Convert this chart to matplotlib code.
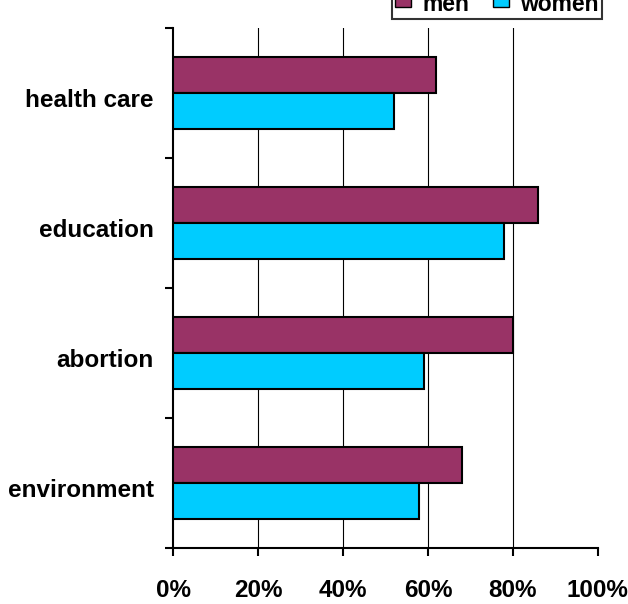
import matplotlib.pyplot as plt
import matplotlib.patches as mpatches
import numpy as np

plt.rcParams['font.family'] = ['Liberation Sans', 'DejaVu Sans']
plt.rcParams['font.weight'] = 'bold'

# Data (bottom to top)
categories = ['environment', 'abortion', 'education', 'health care']
men = [68, 80, 86, 62]
women = [58, 59, 78, 52]

men_color = '#993366'
women_color = '#00ccff'

fig = plt.figure(figsize=(6.28, 6.04), dpi=100)
ax = fig.add_axes([0.2755, 0.0927, 0.952 - 0.2755, 0.9536 - 0.0927])

y = np.arange(len(categories))
h = 0.28
ax.barh(y + h / 2, men, height=h, color=men_color, edgecolor='black', linewidth=1.5, zorder=3)
ax.barh(y - h / 2, women, height=h, color=women_color, edgecolor='black', linewidth=1.5, zorder=3)

ax.set_xlim(0, 100)
ax.set_ylim(-0.5, len(categories) - 0.5)

# Vertical gridlines
for gx in [20, 40, 60, 80]:
    ax.axvline(gx, color='black', linewidth=0.8, zorder=1)

ax.set_xticks([0, 20, 40, 60, 80, 100])
ax.set_xticklabels(['0%', '20%', '40%', '60%', '80%', '100%'])
ax.tick_params(axis='x', direction='out', length=6, width=1.5, pad=16, labelsize=17.5)

# y ticks at category boundaries, labels at centers
ax.set_yticks(np.arange(-0.5, len(categories), 1.0))
ax.set_yticklabels([])
ax.set_yticks(y - 0.04, minor=True)
ax.set_yticklabels(categories, minor=True)
ax.tick_params(axis='y', which='major', direction='out', length=6, width=1.5)
ax.tick_params(axis='y', which='minor', length=0, pad=14, labelsize=17.5)

for s in ['top', 'right']:
    ax.spines[s].set_visible(False)
for s in ['left', 'bottom']:
    ax.spines[s].set_linewidth(1.5)

# Legend, partly cut at the top edge as in the original
handles = [mpatches.Patch(facecolor=men_color, edgecolor='black', label='men'),
           mpatches.Patch(facecolor=women_color, edgecolor='black', label='women')]
leg = fig.legend(handles=handles, loc='lower right', ncol=2,
                 bbox_to_anchor=(602 / 628, 1 - 19 / 604), fontsize=16.5,
                 frameon=True, fancybox=False, edgecolor='black',
                 handlelength=0.7, handleheight=0.2, handletextpad=0.5,
                 columnspacing=1.0, borderpad=0.15, borderaxespad=0)
leg.get_frame().set_linewidth(1.5)

fig.savefig('out.png', dpi=100)
